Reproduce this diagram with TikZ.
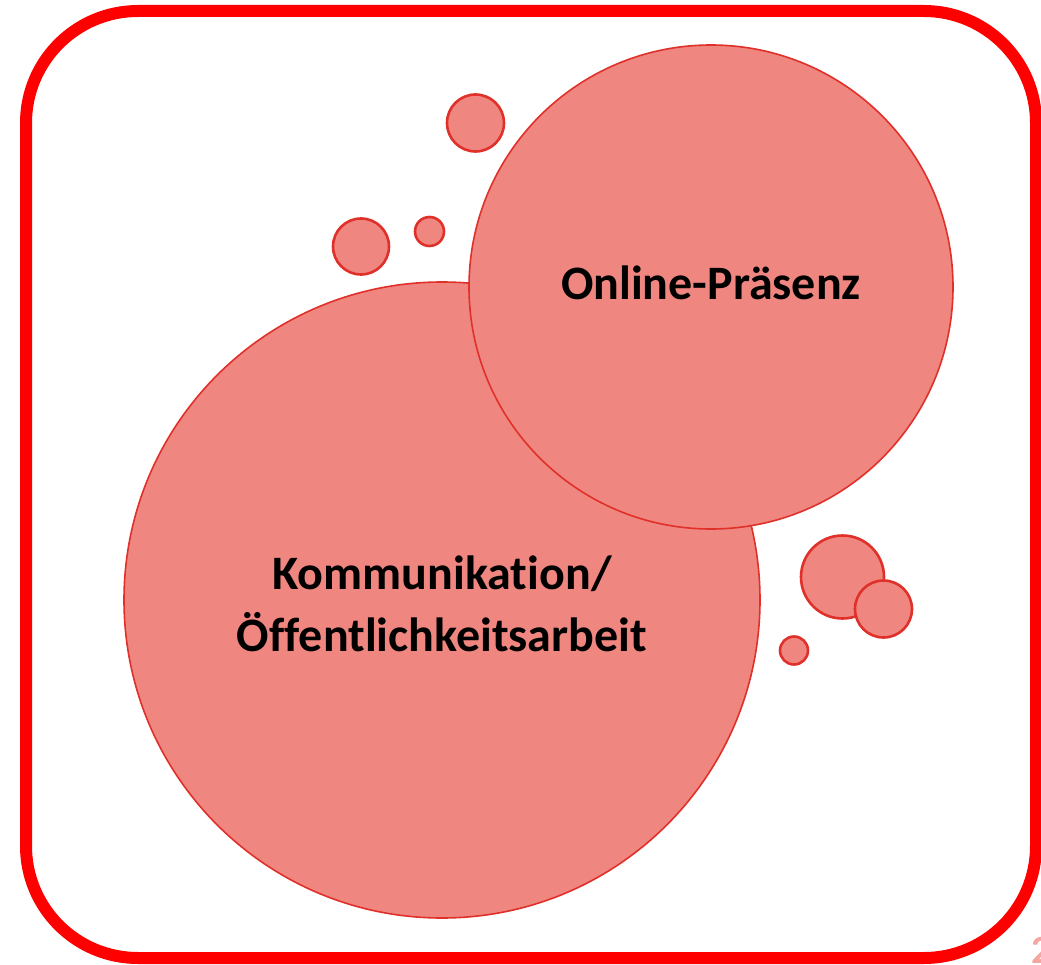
\documentclass[tikz,border=0pt]{standalone}
\usepackage{fontspec}
\setmainfont{Carlito}[Ligatures={NoCommon}]
\usepackage{tikz}
\usetikzlibrary{positioning}
\definecolor{bubblefill}{HTML}{F08680}
\definecolor{bubbleline}{HTML}{E0302A}
\definecolor{framered}{HTML}{FF0000}
\definecolor{pagenum}{HTML}{F4A6A0}
\begin{document}
\begin{tikzpicture}[
x=1pt, y=-1pt,
bignode/.style={circle, draw=bubbleline, fill=bubblefill, line width=1.6pt, inner sep=0pt},
textnode/.style={align=center, inner sep=0pt, font=\bfseries\fontsize{48}{62}\selectfont},
bubblenode/.style={circle, draw=bubbleline, fill=bubblefill, line width=2.6pt, inner sep=0pt},
]
\useasboundingbox (0,0) rectangle (1041,965);
%Frame
\draw[framered, line width=12pt, rounded corners=112pt] (26,11) rectangle (1036,958);

%Nodes
\node[bignode, minimum size=636pt] (komm) at (442,600) {};
\node[bignode, minimum size=484pt] (online) at (711,287) {};
\node[textnode] (kommtext) at (442,604) {Kommunikation/\\Öffentlichkeitsarbeit};
\node[textnode, anchor=base] (onlinetext) at (711,300) {Online-Präsenz};

%Bubbles
\node[bubblenode, minimum size=57pt] (topbubble)  at (475.5,123) {};
\node[bubblenode, minimum size=56pt] (leftbubble) at (361,246.5) {};
\node[bubblenode, minimum size=29pt] (tinybubble) at (429.5,231.5) {};
\node[bubblenode, minimum size=83pt] (rightbig)   at (842.5,577) {};
\node[bubblenode, minimum size=57pt] (rightsmall) at (883.5,609) {};
\node[bubblenode, minimum size=28pt] (rightdot)   at (794,650.5) {};

%Page number
\node[pagenum, anchor=north west, inner sep=0pt, font=\bfseries\fontsize{40}{48}\selectfont] (pnum) at (1031,937) {2};
\end{tikzpicture}
\end{document}
